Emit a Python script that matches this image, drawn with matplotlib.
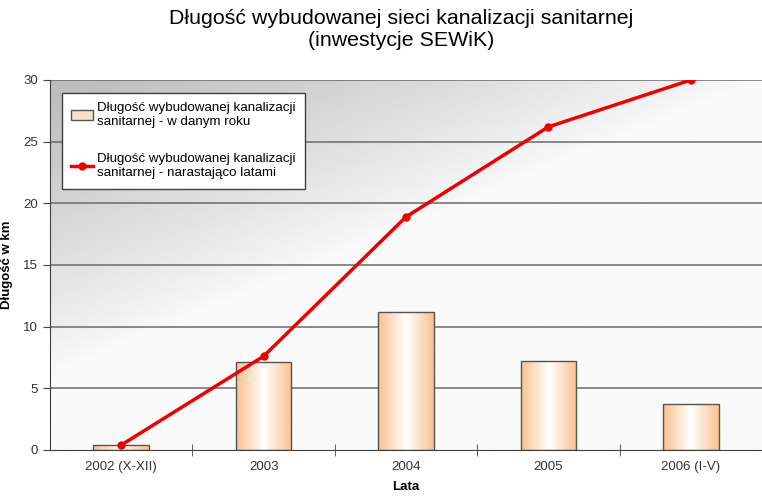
import numpy as np
import matplotlib.pyplot as plt
from matplotlib.patches import Rectangle
from matplotlib.colors import LinearSegmentedColormap

plt.rcParams['font.family'] = ['Liberation Sans', 'DejaVu Sans']

lata = ["2002 (X-XII)", "2003", "2004", "2005", "2006 (I-V)"]
w_roku = [0.4, 7.1, 11.2, 7.2, 3.7]
narastajaco = [0.4, 7.6, 18.9, 26.2, 30.0]

fig = plt.figure(figsize=(7.62, 4.99), dpi=100)
ax = fig.add_axes([0.0656, 0.0982, 0.9344, 0.7415])

x = np.arange(len(lata))

# tlo z gradientem (szare w lewym gornym rogu, jasne w prawo i w dol)
gy, gx = np.mgrid[0:1:200j, 0:1:300j]
d = np.clip(1.0 - (gx / 1.0 + gy / 0.8), 0, 1) ** 0.9
bg = 1 - 0.25 * d - 0.02
ax.imshow(bg, cmap="gray", vmin=0, vmax=1, extent=[-0.5, len(lata) - 0.5, 0, 30],
          aspect="auto", origin="upper", zorder=0)

for yv in range(5, 31, 5):
    ax.axhline(yv, color="#6a6a6a", lw=1.1, zorder=1)

# slupki z gradientem poziomym
bar_cmap = LinearSegmentedColormap.from_list("b", ["#f9c28f", "#ffffff", "#f9c28f"])
grad = np.linspace(0, 1, 100).reshape(1, -1)
bars = ax.bar(x, w_roku, width=0.39, facecolor="none", edgecolor="#555555", lw=1.0, zorder=3,
              label="Długość wybudowanej kanalizacji\nsanitarnej - w danym roku")
for b in bars:
    im = ax.imshow(grad, cmap=bar_cmap, aspect="auto", zorder=2,
                   extent=[b.get_x(), b.get_x() + b.get_width(), 0, b.get_height()])
    im.set_clip_path(Rectangle((b.get_x(), 0), b.get_width(), b.get_height(),
                               transform=ax.transData))
ax.set_xlim(-0.5, len(lata) - 0.5)
ax.set_ylim(0, 30)

line, = ax.plot(x, narastajaco, color="#ee0000", lw=2.5, marker="o", ms=5, zorder=4,
                label="Długość wybudowanej kanalizacji\nsanitarnej - narastająco latami")

for s in ["top", "right"]:
    ax.spines[s].set_visible(False)
ax.spines["left"].set_color("#404040")
ax.spines["bottom"].set_color("#404040")

ax.set_yticks(range(0, 31, 5))
ax.set_xticks(x)
ax.set_xticklabels(lata)
ax.tick_params(axis="x", length=0, pad=8, labelsize=9.5, labelcolor="#333333")
ax.tick_params(axis="y", length=5, direction="out", color="#404040", labelsize=9.5,
               labelcolor="#333333")
ax.set_xticks(np.arange(0.5, len(lata) - 0.5, 1), minor=True)
ax.tick_params(axis="x", which="minor", length=8, direction="inout", color="#404040")

ax.set_ylabel("Długość w km", fontsize=9.5, fontweight="bold")
ax.yaxis.set_label_coords(-0.052, 0.5)
ax.set_xlabel("Lata", fontsize=9.5, fontweight="bold", labelpad=6)

fig.text(0.527, 0.982, "Długość wybudowanej sieci kanalizacji sanitarnej\n(inwestycje SEWiK)",
         ha="center", va="top", fontsize=15.4, linespacing=1.2)

proxy = Rectangle((0, 0), 1, 1, facecolor="#fbe0c8", edgecolor="#555555", lw=1.0)
leg = ax.legend([proxy, line], [bars.get_label(), line.get_label()],
                loc="upper left", bbox_to_anchor=(0.017, 0.965), fontsize=9.6,
                frameon=True, fancybox=False, framealpha=1, edgecolor="#404040",
                handlelength=1.6, handletextpad=0.3, labelspacing=1.9, borderpad=0.7,
                borderaxespad=0)
leg.get_frame().set_linewidth(1.0)

fig.savefig("out.png", dpi=100)
